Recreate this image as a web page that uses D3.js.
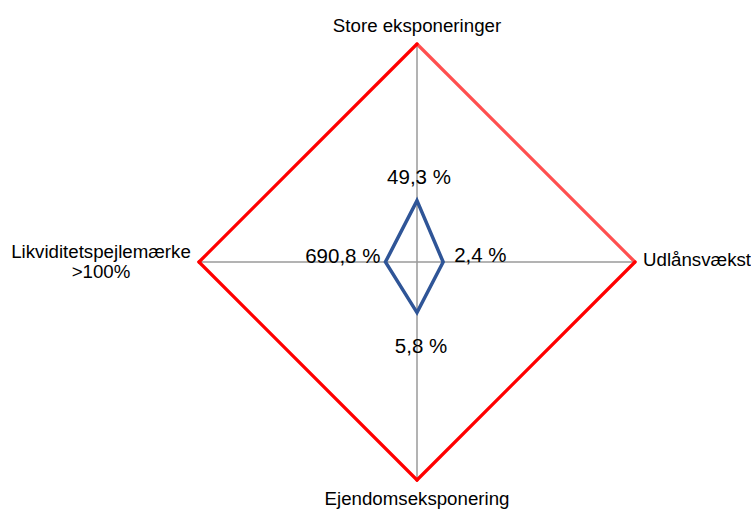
<!DOCTYPE html>
<html>
<head>
<meta charset="utf-8">
<script src="https://cdn.jsdelivr.net/npm/d3@7"></script>
<style>
  html, body { margin: 0; padding: 0; background: #fff; }
  svg { display: block; font-family: "Liberation Sans", Arial, sans-serif; }
</style>
</head>
<body>
<svg id="chart" width="751" height="509"></svg>
<script>
// ---- data ----
const axes = ["Store eksponeringer", "Udlånsvækst", "Ejendomseksponering", "Likviditetspejlemærke\n>100%"];
const values = [49.3, 2.4, 5.8, 690.8];           // key figures (%)
const limits = [175, 20, 25, 100];                // threshold values (%)
const inverted = [false, false, false, true];     // liquidity: higher is better
const valueLabels = ["49,3 %", "2,4 %", "5,8 %", "690,8 %"];

// ---- layout ----
const cx = 417, cy = 262, R = 218;
const svg = d3.select("#chart");
const g = svg.append("g").attr("transform", `translate(${cx},${cy})`);

const r = d3.scaleLinear().domain([0, 1]).range([0, R]);
const angle = d3.scalePoint().domain(d3.range(axes.length)).range([0, 2 * Math.PI * (axes.length - 1) / axes.length]);

const ratios = values.map((v, i) => inverted[i] ? limits[i] / v : v / limits[i]);
const pt = (i, rr) => [Math.sin(angle(i)) * rr, -Math.cos(angle(i)) * rr];

// axis lines
g.selectAll("line.axis").data(axes).join("line")
  .attr("class", "axis")
  .attr("x1", 0).attr("y1", 0)
  .attr("x2", (d, i) => pt(i, r(1))[0])
  .attr("y2", (d, i) => pt(i, r(1))[1])
  .attr("stroke", "#9a9a9a").attr("stroke-width", 1.5);

// limit diamond (edges)
const edgeColors = ["#ff4f4f", "#ff0000", "#ff0000", "#ff0000"];
g.selectAll("line.limit").data(axes).join("line")
  .attr("class", "limit")
  .attr("x1", (d, i) => pt(i, r(1))[0])
  .attr("y1", (d, i) => pt(i, r(1))[1])
  .attr("x2", (d, i) => pt((i + 1) % axes.length, r(1))[0])
  .attr("y2", (d, i) => pt((i + 1) % axes.length, r(1))[1])
  .attr("stroke", (d, i) => edgeColors[i])
  .attr("stroke-width", 3.2)
  .attr("stroke-linecap", "round");

// value polygon
const radial = d3.lineRadial()
  .angle((d, i) => angle(i))
  .radius(d => r(d))
  .curve(d3.curveLinearClosed);
g.append("path")
  .datum(ratios)
  .attr("d", radial)
  .attr("fill", "none")
  .attr("stroke", "#2f5597")
  .attr("stroke-width", 3.5)
  .attr("stroke-linejoin", "miter");

// value labels
const valueOffsets = [
  { dx: 2, dy: -16.5, anchor: "middle" },
  { dx: 11, dy: 0, anchor: "start" },
  { dx: 4, dy: 40, anchor: "middle" },
  { dx: -5, dy: 1, anchor: "end" }
];
g.selectAll("text.val").data(valueLabels).join("text")
  .attr("class", "val")
  .attr("x", (d, i) => pt(i, r(ratios[i]))[0] + valueOffsets[i].dx)
  .attr("y", (d, i) => pt(i, r(ratios[i]))[1] + valueOffsets[i].dy)
  .attr("text-anchor", (d, i) => valueOffsets[i].anchor)
  .attr("font-size", "20.5px")
  .attr("fill", "#000")
  .text(d => d);

// axis labels
const labelPos = [
  { x: 0, y: -r(1) - 12, anchor: "middle" },
  { x: r(1) + 8, y: 4, anchor: "start" },
  { x: 0, y: r(1) + 25, anchor: "middle" },
  { x: -r(1) - 98, y: -4.5, anchor: "middle" }
];
axes.forEach((name, i) => {
  const lines = name.split("\n");
  const t = g.append("text")
    .attr("x", labelPos[i].x)
    .attr("y", labelPos[i].y)
    .attr("text-anchor", labelPos[i].anchor)
    .attr("font-size", "18.7px")
    .attr("fill", "#000");
  lines.forEach((ln, j) => {
    t.append("tspan")
      .attr("x", labelPos[i].x)
      .attr("dy", j === 0 ? 0 : 20.5)
      .text(ln);
  });
});
</script>
</body>
</html>
